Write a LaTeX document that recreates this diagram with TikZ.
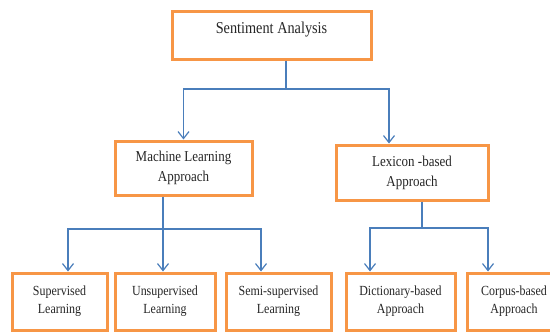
\documentclass[tikz,border=0pt]{standalone}
\usepackage{fontspec}
\setmainfont[FakeStretch=0.86]{Liberation Serif}
\usetikzlibrary{arrows.meta}
\definecolor{boxorange}{RGB}{247,150,70}
\definecolor{linkblue}{RGB}{74,126,187}
\tikzset{
	box/.style={draw=boxorange, line width=3pt, fill=white, align=center, inner sep=2pt, text=black!85},
	toptext/.style={font=\fontsize{16.6}{19}\selectfont, text height=10pt, text depth=13pt},
	midtext/.style={font=\fontsize{15.1}{20}\selectfont},
	lowtext/.style={font=\fontsize{13.9}{18}\selectfont},
	link/.style={draw=linkblue, line width=1.2pt},
	arr/.style={link, -{Straight Barb[length=7pt,width=11pt,line width=1.2pt]}},
}

\begin{document}
		\begin{tikzpicture}[x=1pt, y=-1pt]
			\useasboundingbox (0,0) rectangle (550,332);
			\node[box, toptext, minimum width=199pt, minimum height=48pt] (sa) at (271.5,35) {Sentiment Analysis};
			\node[box, midtext, minimum width=137pt, minimum height=54pt] (ml) at (183.5,168) {Machine Learning\\Approach};
			\node[box, midtext, minimum width=152pt, minimum height=55pt] (lex) at (412,172.5) {Lexicon -based\\Approach};
			\node[box, lowtext, minimum width=95pt, minimum height=57pt] (sup) at (59.5,301.5) {Supervised\\Learning};
			\node[box, lowtext, minimum width=100pt, minimum height=57pt] (unsup) at (165,301.5) {Unsupervised\\Learning};
			\node[box, lowtext, minimum width=105pt, minimum height=57pt] (semi) at (278.5,301.5) {Semi-supervised\\Learning};
			\node[box, lowtext, minimum width=109pt, minimum height=57pt] (dict) at (400.5,301.5) {Dictionary-based\\Approach};
			\node[box, lowtext, minimum width=94pt, minimum height=57pt] (corp) at (514,301.5) {Corpus-based\\Approach};
			\coordinate (busa) at (286,89);
			\coordinate (busb) at (163,229);
			\coordinate (busc) at (422,228);
			\draw[link] ([xshift=14.5pt]sa.south) -- (busa);
			\draw[arr] (busa) -| (ml.north);
			\draw[arr] (busa) -| ([xshift=-23pt]lex.north);
			\draw[link] ([xshift=-20.5pt]ml.south) -- (busb);
			\draw[arr] (busb) -| ([xshift=8.5pt]sup.north);
			\draw[arr] (busb) -- ([xshift=-2pt]unsup.north);
			\draw[arr] (busb) -| ([xshift=-17.5pt]semi.north);
			\draw[link] ([xshift=10pt]lex.south) -- (busc);
			\draw[arr] (busc) -| ([xshift=-30.5pt]dict.north);
			\draw[arr] (busc) -| ([xshift=-26pt]corp.north);
		\end{tikzpicture}
\end{document}
